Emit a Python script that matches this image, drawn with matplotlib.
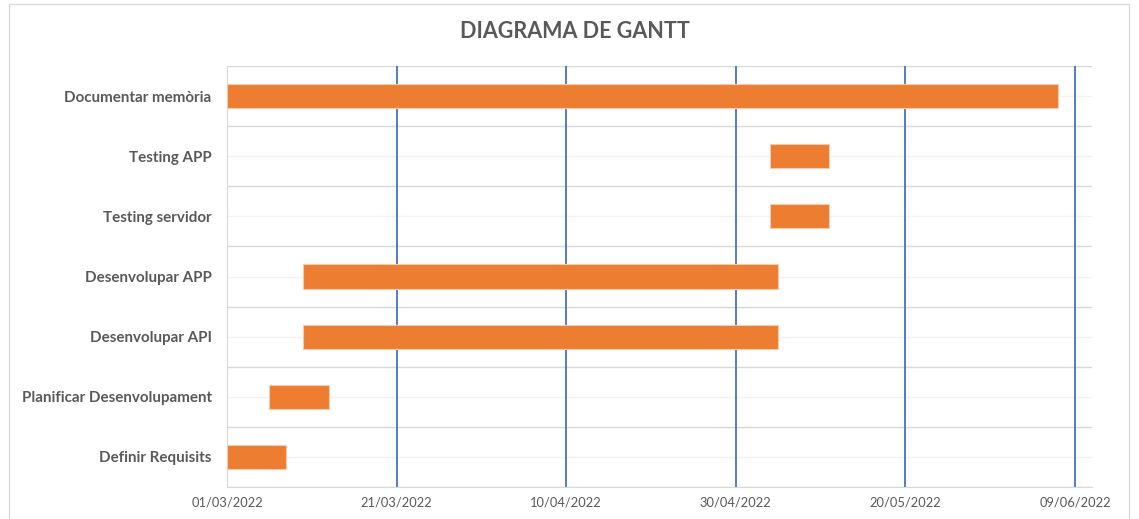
import datetime as dt
import matplotlib.pyplot as plt
import matplotlib.dates as mdates
from matplotlib.patches import Rectangle

# tasks, bottom to top
tasks = ["Definir Requisits", "Planificar Desenvolupament", "Desenvolupar API",
         "Desenvolupar APP", "Testing servidor", "Testing APP", "Documentar memòria"]
starts = ["01/03/2022", "06/03/2022", "10/03/2022", "10/03/2022",
          "04/05/2022", "04/05/2022", "01/03/2022"]
durations = [7, 7, 56, 56, 7, 7, 98]  # days

tick_dates = ["01/03/2022", "21/03/2022", "10/04/2022", "30/04/2022", "20/05/2022", "09/06/2022"]

plt.rcParams['font.family'] = ['Lato', 'DejaVu Sans']

to_date = lambda s: dt.datetime.strptime(s, "%d/%m/%Y")
start_d = [mdates.date2num(to_date(s)) for s in starts]
ticks = [mdates.date2num(to_date(s)) for s in tick_dates]

fig = plt.figure(figsize=(11.39, 5.19), dpi=100)
fig.patches.append(Rectangle((9 / 1139, -0.1), 1120 / 1139, 1.1 - 4 / 519, transform=fig.transFigure,
                             fill=False, edgecolor='#d9d9d9', linewidth=1))
ax = fig.add_axes([227 / 1139, 1 - 487 / 519, (1092 - 227) / 1139, (487 - 66) / 519])

y = range(len(tasks))
ax.barh(y, durations, left=start_d, height=0.4, color='#ed7d31', edgecolor='#f8cbad',
        linewidth=0.8, zorder=3)

ax.set_ylim(-0.5, len(tasks) - 0.5)
ax.set_xlim(ticks[0], ticks[0] + 102)
ax.set_yticks(list(y))
ax.set_yticklabels(tasks, fontsize=10.9, fontweight='bold', color='#595959')
ax.set_xticks(ticks)
ax.set_xticklabels(tick_dates, fontsize=9.3, color='#595959')
ax.tick_params(length=0)
ax.tick_params(axis='x', pad=7)
ax.tick_params(axis='y', pad=11)

# row separators and faint centre lines
for i in range(len(tasks) + 1):
    ax.axhline(i - 0.5, color='#d9d9d9', linewidth=1, zorder=1)
for i in y:
    ax.axhline(i, color='#f2f2f2', linewidth=1, zorder=1)
for t in ticks[1:]:
    ax.axvline(t, color='#4472c4', linewidth=1.3, zorder=2)

for s in ['top', 'right']:
    ax.spines[s].set_visible(False)
for s in ['left', 'bottom']:
    ax.spines[s].set_color('#d9d9d9')

fig.text(0.505, 1 - 32 / 519, "DIAGRAMA DE GANTT", ha='center', va='center',
         fontsize=15.5, fontweight='bold', color='#595959')

plt.savefig('out.png', dpi=100)
